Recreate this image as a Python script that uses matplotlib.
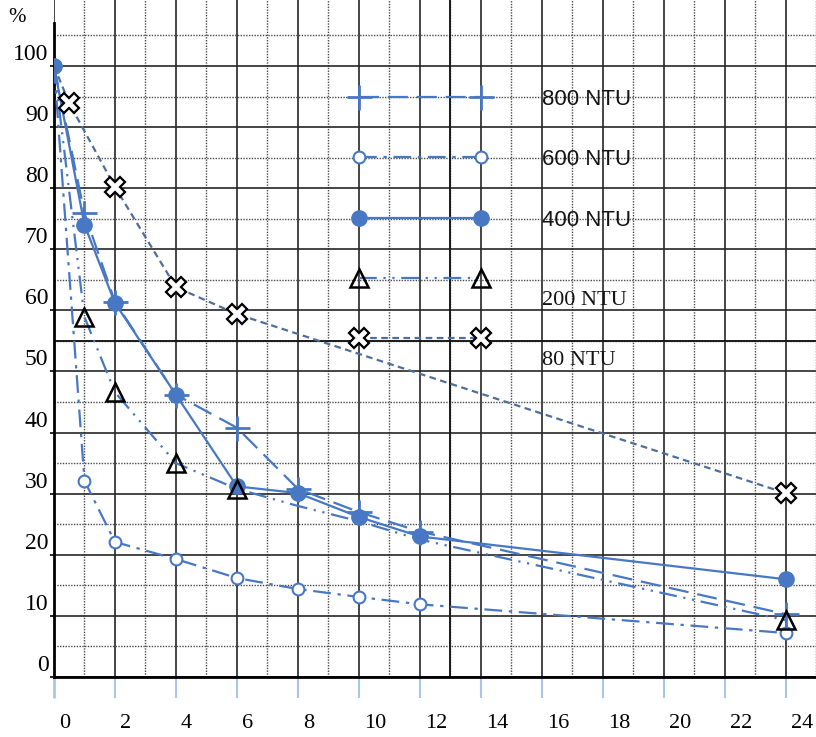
import numpy as np
import matplotlib
matplotlib.use("Agg")
import matplotlib.pyplot as plt
from matplotlib.lines import Line2D
from matplotlib.transforms import ScaledTranslation

# time (h) and remaining turbidity (%)
hours = [0, 1, 2, 4, 6, 8, 10, 12, 24]
hours_80 = [0, 0.5, 2, 4, 6, 24]

ntu_800 = [100, 75.9, 61.4, 46.2, 40.8, 30.8, 27.0, 23.8, 10.3]
ntu_600 = [100, 32.1, 22.1, 19.3, 16.2, 14.4, 13.1, 11.9, 7.2]
ntu_400 = [100, 74.0, 61.2, 46.2, 31.2, 30.1, 26.2, 23.0, 16.0]
ntu_200 = [100, 58.9, 46.6, 35.0, 30.8, 28.0, 25.5, 22.5, 9.3]
ntu_80 = [100, 93.9, 80.2, 63.8, 59.4, 30.1]

labels = ["800 NTU", "600 NTU", "400 NTU", "200 NTU", "80 NTU"]
xticks = list(range(0, 25, 2))
yticks = list(range(0, 101, 10))

blue = "#4878c3"
dark_blue = "#4f6e9c"
serif = "Liberation Serif"
sans = "Liberation Sans"

# line styles, shared by the curves and the legend samples
st_800 = dict(color=blue, lw=1.6, ls=(0, (9, 4)), marker="+", ms=18, mew=2.0)
st_600 = dict(color=blue, lw=1.6, ls=(0, (8, 3, 1.5, 3)), marker="o", ms=8.5,
              mfc="white", mec=blue, mew=1.5)
st_400 = dict(color=blue, lw=1.6, ls="-", marker="o", ms=11, mfc=blue, mec=blue)
st_200 = dict(color=blue, lw=1.6, ls=(0, (8, 3, 1, 3, 1, 3)), marker="^", ms=13,
              mfc="none", mec="black", mew=1.8)
st_80 = dict(color=dark_blue, lw=1.6, ls=(0, (3, 2)), marker="X", ms=14,
             mfc="white", mec="black", mew=1.6)

fig = plt.figure(figsize=(8.16, 7.37), dpi=100)
ax = fig.add_axes([54 / 816, 60 / 737, 1 - 54 / 816, 677 / 737])

ax.set_xlim(0, 25)
ax.set_ylim(0, 110.8)

# grid: solid every 2 h / 10 %, dotted in between
ax.set_xticks(xticks)
ax.set_xticks(np.arange(1, 26, 2), minor=True)
ax.set_yticks(yticks)
ax.set_yticks(np.arange(5, 106, 10), minor=True)
ax.grid(which="major", color="#262626", lw=1.2)
ax.grid(which="minor", color="#4a4a4a", lw=1.0, ls=(0, (1, 1)))
ax.axhline(55, color="#1a1a1a", lw=1.4, zorder=1)
ax.axvline(13, color="#1a1a1a", lw=1.4, zorder=1)
ax.set_axisbelow(True)

ax.plot(hours, ntu_600, **st_600, zorder=3)
ax.plot(hours, ntu_200, **st_200, markevery=[1, 2, 3, 4, 8], zorder=4)
ax.plot(hours, ntu_800, **st_800, markevery=list(range(1, 9)), zorder=3)
ax.plot(hours, ntu_400, **st_400, zorder=3)
ax.plot(hours_80, ntu_80, **st_80, markevery=[1, 2, 3, 4, 5], zorder=4)

handles = [Line2D([], [], **s) for s in (st_800, st_600, st_400, st_200, st_80)]
leg = ax.legend(handles, labels, loc="upper left", bbox_to_anchor=(9.78, 96.3),
                bbox_transform=ax.transData, frameon=False, numpoints=2,
                handlelength=6.1, handletextpad=2.45, labelspacing=1.78,
                borderpad=0, borderaxespad=0,
                prop=dict(family=sans, size=16))
for i, t in enumerate(leg.get_texts()):
    t.set_color("#141414")
    if i >= 3:
        t.set_fontfamily(serif)
        t.set_y(-19)

for side in ("top", "right"):
    ax.spines[side].set_visible(False)
ax.spines["left"].set_linewidth(2)
ax.spines["bottom"].set_linewidth(2)
ax.spines["left"].set_bounds(0, 107)

ax.tick_params(axis="x", which="major", direction="out", length=15, width=1.5,
               color="#a9c6ea", pad=12, labelsize=16)
ax.tick_params(axis="x", which="minor", length=0)
ax.tick_params(axis="y", which="major", direction="out", length=3, width=1.2,
               pad=1, labelsize=17)
ax.tick_params(axis="y", which="minor", length=0)
ax.xaxis.get_major_ticks()[0].tick1line.set_color("black")
ax.xaxis.get_major_ticks()[0].tick1line.set_markeredgewidth(2)

for lab in ax.get_xticklabels():
    lab.set_fontfamily(serif)
    lab.set_horizontalalignment("left")
    lab.set_transform(lab.get_transform() + ScaledTranslation(0.05, 0, fig.dpi_scale_trans))
for lab in ax.get_yticklabels():
    lab.set_fontfamily(serif)
    lab.set_transform(lab.get_transform() + ScaledTranslation(0, 0.14, fig.dpi_scale_trans))

fig.text(17 / 816, 1 - 18 / 737, "%", fontsize=15, family=serif, ha="center", va="center")

fig.savefig("out.png", dpi=100)
